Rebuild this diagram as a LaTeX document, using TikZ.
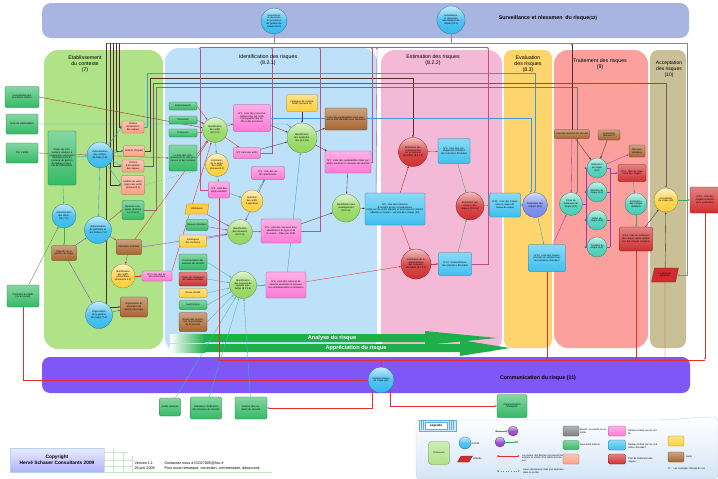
\documentclass[tikz,border=0pt]{standalone}
\usepackage{fontspec}
\setmainfont{Liberation Sans}
\usetikzlibrary{arrows.meta,shapes.geometric,calc}
\pgfdeclarelayer{bg}
\pgfdeclarelayer{lnl}
\pgfsetlayers{bg,lnl,main}
\definecolor{cCtx}{HTML}{B0E288}
\definecolor{cId}{HTML}{BEE1FA}
\definecolor{cEst}{HTML}{F5B9D8}
\definecolor{cEval}{HTML}{FDD46E}
\definecolor{cTrt}{HTML}{FCA09E}
\definecolor{cAcc}{HTML}{C9C098}
\definecolor{cSurv}{HTML}{A8B5E0}
\definecolor{cComm}{HTML}{7F57F7}
\definecolor{cDoc}{HTML}{34BA66}
\definecolor{cSal}{HTML}{FFA085}
\definecolor{cBrn}{HTML}{A8652E}
\definecolor{cPnk}{HTML}{FF7AD6}
\definecolor{cBlu}{HTML}{3EC0F0}
\definecolor{cRed}{HTML}{D02E2E}
\definecolor{cYel}{HTML}{FFCF3A}
\definecolor{cTeal}{HTML}{45CDB6}
\definecolor{cGrn}{HTML}{92D65C}
\definecolor{cAct}{HTML}{35B9EE}
\definecolor{cEv}{HTML}{7386EE}
\definecolor{cArr}{HTML}{1FAF4A}
\definecolor{cPur}{HTML}{8E3FC0}
\definecolor{cLR}{HTML}{E0302F}
\definecolor{cLB}{HTML}{3A9AD9}
\definecolor{cLT}{HTML}{3CC0A0}
\definecolor{cLD}{HTML}{5A2A2A}
\definecolor{cLG}{HTML}{3BAF4A}
\definecolor{cLP}{HTML}{C0508A}
\definecolor{cGry}{HTML}{8A8A8A}
\definecolor{cLeg}{HTML}{D4E5F6}
\tikzset{
 tx/.style={font=\fontsize{2.4}{2.7}\selectfont, align=center, inner sep=0.4pt, outer sep=0pt},
 nb/.style={tx, draw=#1!60!black, line width=0.25pt, rounded corners=1.2pt, top color=#1!60!white, bottom color=#1},
 sz/.style 2 args={minimum width=#1pt, minimum height=#2pt, text width={(#1-2.5)*1pt}},
 nc/.style={tx, circle, draw=#1!55!black, line width=0.25pt, top color=#1!30!white, bottom color=#1, middle color=#1!85!white},
 cz/.style={minimum size=#1pt, text width={(#1*0.7)*1pt}},
 npg/.style={tx, trapezium, trapezium left angle=65, trapezium right angle=115, trapezium stretches=true, draw=#1!60!black, line width=0.25pt, fill=#1},
 la/.style={draw=#1, line width=0.35pt, -{Latex[length=2.2pt,width=1.7pt]}},
 lp/.style={draw=#1, line width=0.35pt},
 ttl/.style={font=\fontsize{5.3}{6}\selectfont, align=center},
 lgt/.style={font=\fontsize{2.4}{2.8}\selectfont, align=left, anchor=west, inner sep=0pt},
}
\begin{document}
\begin{tikzpicture}[x=1pt,y=-1pt]
\useasboundingbox (0,0) rectangle (718,479);
\begin{pgfonlayer}{bg}
\fill[white] (0,0) rectangle (718,479);
\fill[cSurv, rounded corners=9pt] (42,3) rectangle (689,38);
\fill[cCtx, rounded corners=14pt] (44,50) rectangle (163,349);
\fill[cId, rounded corners=14pt] (165,48) rectangle (377,352);
\fill[cEst, rounded corners=14pt] (381,50) rectangle (502,352);
\fill[cEval, rounded corners=8pt] (504,50) rectangle (552,348);
\fill[cTrt, rounded corners=14pt] (554,50) rectangle (648,348);
\fill[cAcc, rounded corners=8pt] (650,50) rectangle (686,348);
\fill[cComm, rounded corners=8pt] (42,357) rectangle (690,393);
% banners
\fill[cArr] (172,344) -- (460,344) -- (460,340) -- (510,348) -- (460,356) -- (460,352) -- (172,352) -- cycle;
\fill[cArr] (172,334) -- (425,334) -- (425,331) -- (497,338) -- (425,345) -- (425,342) -- (172,342) -- cycle;
\shade[left color=white, right color=cArr] (170,334) rectangle (205,342);
\shade[left color=white, right color=cArr] (170,344) rectangle (205,352);
\end{pgfonlayer}

% titles
\node[ttl] (tctx) at (85,64) {Etablissement\\du contexte\\(7)};
\node[ttl] (tid) at (268,60) {Identification des risques\\(8.2.1)};
\node[ttl] (test) at (433,60) {Estimation des risques\\(8.2.2)};
\node[ttl] (teval) at (528,64) {Evaluation\\des risques\\(8.3)};
\node[ttl] (ttrt) at (600,64) {Traitement des risques\\(9)};
\node[ttl, font=\fontsize{5}{5.8}\selectfont] (tacc) at (669,69) {Acceptation\\des risques\\(10)};
\node[font=\bfseries\fontsize{5.3}{6}\selectfont] (tsurv) at (548,18) {Surveillance et réexamen\ \ du risque{\fontsize{4.4}{5}\selectfont(12)}};
\node[font=\bfseries\fontsize{5.3}{6}\selectfont] (tcomm) at (538,378) {Communication du risque (11)};
\node[font=\bfseries\fontsize{5.6}{6}\selectfont, text=white] (tana) at (332,338) {Analyse du risque};
\node[font=\bfseries\fontsize{5.6}{6}\selectfont, text=white] (tapp) at (356,348) {Appréciation du risque};

% surveillance circles
\node[nc=cAct, cz=26] (surv122) at (274,21) {Surveillance et réexamen du processus de gestion du risque (12.2)};
\node[nc=cAct, cz=28] (surv121) at (451,20) {Surveillance et réexamen des facteurs de risque (12.1)};
\coordinate (f106) at (106,43);
\coordinate (f110) at (110,43);
\coordinate (f113) at (113,43);
\coordinate (f116) at (116,43);
\coordinate (f119) at (119,43);
\coordinate (f687) at (687,43);
\coordinate (cb) at (0,360);
\coordinate (bus) at (610,0);

% external
\node[nb=cDoc, sz={34}{21}] (cart) at (22,97) {Cartographie des processus métiers};
\node[nb=cDoc, sz={32}{20}] (tests) at (22,124) {Tests de vulnérabilités};
\node[nb=cDoc, sz={32}{20}] (psi) at (22,153) {PSI, CMDB};
\node[nb=cDoc, sz={32}{22}] (perim) at (23,296) {Périmètre du SMSI (ou du projet)};

% context
\node[nb=cDoc, sz={28}{54}] (infos) at (62,158) {Toutes les informations relatives à l'organisme concernant l'établissement du contexte de gestion du risque en sécurité de l'information};
\node[nc=cAct, cz=26] (dcrit) at (100,155) {Détermination des critères de base (7.2)};
\node[nc=cAct, cz=24] (dobj) at (64,216) {Détermination des objectifs (7.1)};
\node[nb=cBrn, sz={25}{15}] (objg) at (64,253) {Objectifs de la gestion du risque};
\node[nc=cAct, cz=27] (dper) at (98,230) {Détermination du périmètre et des limites (7.3)};
\node[nc=cAct, cz=27] (dorg) at (99,315) {Organisation de la gestion du risque (7.4)};
\node[nb=cBrn, sz={27}{20}] (orgp) at (134,307) {Organisation du processus de gestion du risque};
\node[nb=cSal, sz={22}{12}] (crit1) at (133,127) {Critères d'évaluation des risques};
\node[nb=cSal, sz={21}{11}] (crit2) at (134,151) {Critères d'impact};
\node[nb=cSal, sz={22}{12}] (crit3) at (133,166) {Critères d'acceptation des risques};
\node[nb=cSal, sz={23}{19}] (valm) at (133,185) {Modèle de valorisation des actifs (Annexe B.1)};
\node[nb=cDoc, sz={22}{19}] (mesex) at (133,210) {Mesures existantes (Annexe A.2 et A.4)};
\node[nb=cBrn, sz={25}{15}] (perlim) at (129,247) {Périmètre et limites};
\node[nc=cYel, cz=24] (idprim) at (123,276) {Identification des actifs primordiaux (Annexe B.1.1)};
\node[nb=cPnk, sz={30}{10}] (l2prim) at (157,276) {N°2 Liste des actifs primordiaux};

% identification
\node[nb=cDoc, sz={28}{8}] (empl) at (183,106) {Emplacements};
\node[nb=cDoc, sz={28}{8}] (pers) at (183,120) {Personnel};
\node[nb=cDoc, sz={28}{8}] (proc) at (183,133) {Processus};
\node[nb=cDoc, sz={28}{26}] (lcomp) at (183,158) {La liste des composants du SI, des processus et des services};
\node[nc=cGrn, cz=25] (idact) at (215,130) {Identification des actifs (8.2.1.2)};
\node[nb=cPnk, sz={37}{27}] (l1) at (252,118) {N°1. Liste des processus métiers triés par actifs\\Cartographie des actifs et des processus};
\node[nb=cPnk, sz={27}{11}] (l2act) at (247,153) {N°2 Liste des actifs};
\node[nb=cYel, sz={31}{17}] (catvul) at (302,103) {Catalogue de vulnérabilités (Annexe D)};
\node[nc=cGrn, cz=30] (idvul) at (302,138) {Identification des vulnérabilités (8.2.1.5)};
\node[nb=cBrn, sz={42}{22}] (lvulbr) at (346,119) {Liste des vulnérabilités sans menace ni actif identifiés pour résolution};
\node[nb=cPnk, sz={46}{22}] (l7) at (348,162) {N°7. Liste des vulnérabilités triées par actifs, menaces et mesures de sécurité};
\node[nc=cYel, cz=23] (estval) at (217,165) {Estimation de la valeur des actifs (Annexe B.2)};
\node[nb=cPnk, sz={21}{16}] (l3) at (219,190) {N°3. Liste des actifs valorisés};
\node[nb=cPnk, sz={33}{13}] (l4) at (268,173) {N°4. Liste des actifs sélectionnés};
\node[nc=cYel, cz=22] (sel) at (252,201) {Sélection des actifs à apprécier};
\node[npg=cYel, minimum width=24pt, minimum height=10pt] (util) at (197,209) {Utilisateurs};
\node[nb=cDoc, sz={22}{11}] (revinc) at (197,225) {Revues d'incident};
\node[nb=cYel, sz={27}{12}] (catmen) at (193,241) {Catalogues des menaces};
\node[nc=cGrn, cz=25] (idmen) at (240,232) {Identification des menaces (8.2.1.3)};
\node[nb=cPnk, sz={40}{24}] (l5) at (281,231) {N°5. Liste des menaces avec identification du type et de la source - triées par actifs};
\node[nc=cGrn, cz=28] (idcons) at (346,208) {Identification des conséquences (8.2.1.6)};
\node[nb=cDoc, sz={28}{16}] (docmes) at (193,262) {Documentation des mesures de sécurité};
\node[nb=cRed, sz={28}{14}] (plans) at (193,279) {Plans de traitement du risque existants};
\node[nb=cYel, sz={28}{9}] (revaud) at (193,293) {Revue d'audit};
\node[nb=cDoc, sz={28}{9}] (audint) at (193,305) {Audit interne};
\node[nb=cBrn, sz={28}{19}] (revpers) at (193,322) {Revue des personnes responsables de la sécurité};
\node[nc=cGrn, cz=27] (idmes) at (243,285) {Identification des mesures de sécurité existantes (8.2.1.4)};
\node[nb=cPnk, sz={40}{26}] (l6) at (286,285) {N°6. Liste des mesures de sécurité existantes et prévues, leur implémentation et utilisation};

% estimation
\node[nc=cRed, cz=29] (estcons) at (413,152) {Estimation des conséquences sur le scénario d'incident (8.2.2.2)};
\node[nb=cBlu, sz={32}{25}] (l9) at (454,151) {N°9. Liste des conséquences estimées des scénarios d'incident};
\node[nb=cBlu, sz={60}{32}] (l8) at (395,209) {N°8. liste des scénarios d'incident et leur conséquences\\triées sur les actifs affectés et les processus métiers affectés et l'impact - via liste des critères (10)};
\node[nc=cRed, cz=28] (estniv) at (470,206) {Estimation des niveaux des risques (8.2.2.4)};
\node[nc=cRed, cz=30] (estvrai) at (416,264) {Estimation de la vraisemblance des scénarios d'incident (8.2.2.3)};
\node[nb=cBlu, sz={33}{23}] (l10) at (455,264) {N°10. Vraisemblance des scénarios d'incident};

% evaluation
\node[nb=cBlu, sz={31}{24}] (l11) at (505,205) {N°11. Liste des risques avec la valeur du niveau de risque};
\node[nc=cEv, cz=25] (evalc) at (535,205) {Évaluation des risques (8.3)};
\node[nb=cBlu, sz={37}{27}] (l12) at (547,258) {N°12. Liste des risques priorisés en relation avec les scénarios d'incident};

% treatment
\node[nb=cBrn, sz={35}{9}] (lmes) at (572,134) {Liste des mesures de sécurité};
\node[nb=cBrn, sz={22}{10}] (contr) at (609,135) {Contraintes (Annexe F)};
\node[nb=cBrn, sz={16}{12}] (mesdec) at (637,151) {Mesures décidées};
\node[nc=cTeal, cz=23] (choix) at (571,204) {Choix du traitement du risque (9.1)};
\node[nc=cTeal, cz=20] (reduc) at (597,168) {Réduction du risque (9.2)};
\node[nc=cTeal, cz=20] (maint) at (597,192) {Maintien du risque (9.3)};
\node[nc=cTeal, cz=20] (refus) at (597,220) {Refus du risque (9.4)};
\node[nc=cTeal, cz=20] (transf) at (597,247) {Transfert du risque (9.5)};
\node[nb=cRed, sz={28}{17}] (l13) at (632,173) {N°13. Plan de traitement des risques};
\node[nc=cTeal, cz=22] (estres) at (636,204) {Estimation des risques résiduels};
\node[nb=cRed, sz={33}{24}] (l14) at (636,239) {N°14. Plan de traitement des risques après estimation des risques résiduels};

% acceptance
\node[nc=cYel, cz=24] (acc) at (666,200) {Acceptation du risque (10)};
\node[npg=cRed, minimum width=27pt, minimum height=14pt, text width=18pt] (dirg) at (665,275) {La direction générale};
\node[nb=cRed, sz={30}{26}] (l15) at (705,200) {N°15. Liste des risques acceptés avec justification};

% communication
\node[nc=cAct, cz=26] (commc) at (381,380) {Communication du risque (11)};
\node[nb=cDoc, sz={21}{18}] (audext) at (170,407) {Audits externes};
\node[nb=cDoc, sz={31}{22}] (indic) at (206,408) {Indicateurs d'efficacité des mesures de sécurité};
\node[nb=cDoc, sz={32}{22}] (gestinc) at (251,408) {Gestion des incidents de sécurité};
\node[nb=cDoc, sz={30}{23}] (comment) at (512,406) {Communication Entreprise};

% ===== connectors =====
\begin{pgfonlayer}{lnl}
\draw[lp=cGry, line width=0.7pt] (f106) -- (f687);
\draw[la=cGry] (f687) |- (dirg.east);
\draw[lp=cGry] (surv122.south) -- (surv122.south |- f106);
\draw[lp=cGry] (surv121.south) -- (surv121.south |- f106);
\draw[la=cLD] (f106) |- (orgp.west);
\draw[la=cLD] (f110) |- (valm.west);
\draw[la=cLD] (f113) |- (crit3.west);
\draw[la=cLD] (f116) |- (crit2.west);
\draw[la=cLD] (f119) |- (crit1.west);
% criteria lanes
\draw[la=cLB] (crit1.east) -| (147,73) -| (evalc.north);
\draw[la=cLD] (crit2.east) -| (150,78) -| (estcons.north);
\draw[la=cGry!70!black] (crit3.east) -| (153,83) -| (acc.north);
\draw[la=cLD!70] (mesex.east) -| (156,87) -| (choix.60);
\draw[la=cLB] (l1.east) -| (evalc.110);
% pink lane to surveillance
\draw[lp=cLP] (200,47) -- (488,47);
\draw[la=cLP] (l3.west) -| (200,47);
\draw[la=cLP] (l2act.east) -| (272,47);
\draw[la=cLP] (l5.east) -| (320,47);
\draw[la=cLP] (l7.east) -| (372,47);
\draw[la=cLP] ($(l8.north west)+(11,0)$) -- (377,47);
\draw[la=cLP] (l10.east) -| (488,47);
\draw[la=cLD] (lmes.north) -- (lmes.north |- f106);
% context
\draw[la=cLG] (infos) -- (dobj);
\draw[la=cLB] (infos) -- (dcrit);
\draw[la=cLG] (dobj) -- (objg);
\draw[la=cPur] (objg) -- (dper);
\draw[la=cPur] (objg) -- (dorg);
\draw[la=cLB] (dcrit) -- (crit1.west);
\draw[la=cLB] (dcrit) -- (crit2.west);
\draw[la=cLB] (dcrit) -- (crit3.west);
\draw[la=cLB] (dcrit) -- (valm.west);
\draw[la=cLB] (dcrit) -- (dper);
\draw[la=cLR] (dper) -- (perlim);
\draw[la=cLR] (dper) -- (mesex.west);
\draw[la=cPur] (dorg) -- (orgp);
\draw[la=cLR] (perlim) -- (idprim);
\draw[la=cLR] (idprim) -- (l2prim);
\draw[la=cLR] (l2prim.north east) -- (idact);
\draw[la=cLR] (perlim) -- (idact);
\draw[la=cPur] (perlim.east) -- (idmen);
\draw[la=cAcc!60!black] (perim) -- (dobj);
\draw[la=cLR] (perim.south) |- (commc.west);
\draw[la=cLR!70!black] (cart.east) -- (idact);
\draw[la=cLB] (tests.east) -- (tests.east -| idvul.west) -- (idvul);
\draw[la=cLR] (psi.east) -- (lcomp.west);
\draw[cLG, dotted, line width=0.5pt] (valm.east) -- (estval);
% identification
\draw[la=cLR] (empl.east) -- (idact);
\draw[la=cLR] (pers.east) -- (idact);
\draw[la=cLR] (proc.east) -- (idact);
\draw[la=cLR] (lcomp.east) -- (idact);
\draw[la=cLR] (idact) -- (l1);
\draw[la=cLR] (idact) -- (l2act);
\draw[la=cLD] (l1) -- (idvul);
\draw[la=cLD] (l2act) -- (idvul);
\draw[la=cLD] (catvul) -- (idvul);
\draw[la=cLD] (idvul) -- (lvulbr);
\draw[la=cLD] (idvul) -- (l7);
\draw[la=cLD] (l7) -- (idcons);
\draw[la=cLB] (l6) -- (idvul);
\draw[la=cLG] (idact) -- (estval);
\draw[la=cLG] (estval) -- (l3);
\draw[la=cLG] (l3) -- (sel);
\draw[la=cLG] (sel) -- (l4);
\draw[la=cPur] (util) -- (idmen);
\draw[la=cPur] (revinc) -- (idmen);
\draw[la=cPur] (catmen) -- (idmen);
\draw[la=cPur] (l4) -- (idmen);
\draw[la=cPur] (idmen) -- (l5);
\draw[la=cLD] (l5) -- (idcons);
\draw[la=cLT] (docmes.east) -- (idmes);
\draw[la=cLT] (plans.east) -- (idmes);
\draw[la=cLT] (revaud.east) -- (idmes);
\draw[la=cLT] (audint.east) -- (idmes);
\draw[la=cLT] (revpers.east) -- (idmes);
\draw[la=cLT] (audext) -- (idmes);
\draw[la=cLT] (indic) -- (idmes);
\draw[la=cLT] (gestinc) -- (idmes);
\draw[la=cLT] (idmes) -- (l6);
\draw[la=cLR] (l6) -- (estvrai);
\draw[la=cLD] (idcons) -- (l8);
% estimation
\draw[la=cLR!70!black] (l8) -- (estcons);
\draw[la=cLR] (l8) -- (estvrai);
\draw[la=cLR] (estcons) -- (l9);
\draw[la=cLR] (estvrai) -- (l10);
\draw[la=cLG] (l9) -- (estniv);
\draw[la=cLG] (l10) -- (estniv);
\draw[la=cLG] (estniv) -- (l11);
\draw[la=cLB] (l11) -- (evalc);
\draw[la=cLB] (evalc) -- (l12);
\draw[la=cPur] (l12) -- (choix);
% treatment
\draw[la=cPur] (lmes) -- (choix);
\draw[la=cLD] (lmes) -- (reduc);
\draw[la=cLD] (contr) -- (reduc);
\draw[la=cPur] (choix.east) -- ++(4,0) |- (reduc.west);
\draw[la=cPur] (choix.east) -- ++(4,0) |- (maint.west);
\draw[la=cPur] (choix.east) -- ++(4,0) |- (refus.west);
\draw[la=cPur] (choix.east) -- ++(4,0) |- (transf.west);
\draw[lp=cPur] (reduc.east) -- (reduc.east -| bus);
\draw[lp=cPur] (maint.east) -- (maint.east -| bus);
\draw[lp=cPur] (refus.east) -- (refus.east -| bus);
\draw[lp=cPur] (transf.east) -- (transf.east -| bus);
\draw[lp=cPur] (bus |- reduc.east) -- (bus |- transf.east);
\draw[la=cPur] (bus |- l13.west) -- (l13.west);
\draw[la=cPur] (reduc) -- (mesdec);
\draw[la=cLG] (l13) -- (estres);
\draw[la=cLG] (estres) -- (l14);
\draw[la=cLD] (l14) -- (acc);
\draw[la=cLD] (dirg) -- (acc);
\draw[la=cLG] (acc) -- (l15);
% to communication
\draw[lp=cLR] (l3 |- cb) -- (l15 |- cb);
\draw[la=cLR] (l3.south) -- (l3 |- cb);
\draw[la=cLR] (l12.south) -- (l12 |- cb);
\draw[la=cLR] (l14.south) -- (l14 |- cb);
\draw[la=cLR] (dirg.south) -- (dirg |- cb);
\draw[la=cLR] (l15.south) -- (l15 |- cb);
\draw[la=cLR] (commc |- cb) -- (commc.north);
\draw[la=cLR] (commc.south west) |- (gestinc.east);
\draw[la=cLR] (commc.south east) |- (comment.west);
\end{pgfonlayer}

% ===== copyright =====
\node[draw=cLB!40, line width=0.3pt, top color=blue!8!white, bottom color=blue!30!white, minimum width=94pt, minimum height=24pt, font=\bfseries\fontsize{4.8}{5.8}\selectfont, align=center] (copy) at (57,460) {Copyright\\Hervé Schauer Consultants 2009};
\draw[cLG!30, line width=0.4pt] (104,448) -- (104,472) (113,448) -- (113,472) (123,452) -- (123,472) (132,456) -- (132,472)
  (104,452) -- (128,452) (104,460) -- (132,460) (104,466) -- (132,466) (104,472) -- (272,472);
\node[font=\fontsize{3.7}{4.4}\selectfont, align=left, anchor=west] (ver) at (131,466) {Version 1.1\\26 juin 2009};
\node[font=\fontsize{3.7}{4.4}\selectfont, align=left, anchor=west] (cont) at (161,466) {Contactez nous à ISO27005@hsc.fr\\Pour toute remarque, correction, commentaire, désaccord.};

% ===== legend =====
\begin{pgfonlayer}{bg}
\path[draw=gray!35, line width=0.4pt, top color=white, bottom color=cLeg, rounded corners=4pt] (416,479) -- (416,420) -- (650,420) .. controls (680,420) and (690,417) .. (718,417) -- (718,479) -- cycle;
\end{pgfonlayer}
\node[draw=cLB!80, fill=cLB!25, minimum width=37pt, minimum height=11pt] (legtab) at (437.5,425.5) {};
\node[draw=cLB!80, fill=white, minimum width=22pt, minimum height=7pt, font=\bfseries\fontsize{3}{3.5}\selectfont, inner sep=0pt] (legt) at (436,425.5) {Légende};
\draw[cLB!80, line width=0.3pt] (421,421) -- (421,430) (423,421) -- (423,430) (449,421) -- (449,430) (451,421) -- (451,430) (453,421) -- (453,430);
\node[nb=cCtx, sz={21}{23}, rounded corners=3pt] (lgproc) at (439,453) {Processus};
\node[nc=cAct, minimum size=12pt] (lgact) at (465,443) {};
\node[lgt] (lgactt) at (471.5,444) {Activité};
\node[npg=cRed, minimum width=15pt, minimum height=6pt] (lgind) at (465,459) {};
\node[lgt] (lgindt) at (473,459) {Individu};
\node[nc=cPur, minimum size=10pt] (lgp1) at (513,431) {};
\node[nc=cPur, minimum size=10pt] (lgp2) at (500,442) {};
\coordinate (lgs1) at (496,431);
\coordinate (lgs2) at (517,442);
\draw[la=cLG] (lgs1) -- (lgp1);
\draw[la=cLG] (lgp2) -- (lgs2);
\fill[cLG] (lgs1) circle (1pt) (lgs2) circle (1pt);
\coordinate (lgr1) at (498,456);
\coordinate (lgr2) at (520,456);
\draw[la=cLR] (lgr1) -- (lgr2);
\fill[cLR] (lgr1) circle (1pt);
\node[lgt, text width=42pt] (lgrt) at (522,458) {La couleur des flèches correspond aux entrées et sorties d'un même processus};
\coordinate (lgd1) at (498,471);
\coordinate (lgd2) at (520,471);
\draw[cLG, dotted, line width=0.6pt, -{Latex[length=2pt,width=1.6pt]}] (lgd1) -- (lgd2);
\fill[cLG] (lgd1) circle (1pt);
\node[lgt, text width=44pt] (lgdt) at (523,471.5) {Liens nécessaires mais pas explicites dans la norme};
\node[nb=gray, sz={16}{10}] (lggr) at (571,431) {};
\node[lgt, text width=27pt] (lggrt) at (580,431) {Bouclé, en entrée ou en sortie};
\node[nb=cDoc, sz={16}{9}] (lgdoc) at (571,445) {};
\node[lgt, text width=27pt] (lgdoct) at (580,445) {Document externe};
\node[nb=cSal, sz={16}{10}] (lgsal) at (571,459) {};
\node[nb=cPnk, sz={17}{10}] (lgpnk) at (617,431) {};
\node[lgt, text width=30pt] (lgpnkt) at (628,432) {Tableau indexé par les actifs};
\node[nb=cBlu, sz={17}{10}] (lgblu) at (617,445) {};
\node[lgt, text width=30pt] (lgblut) at (628,446) {Tableau indexé par les scénarios d'incident};
\node[nb=cRed, sz={17}{10}] (lgred) at (617,459) {};
\node[lgt, text width=30pt] (lgredt) at (628,460) {Plan de traitement des risques};
\node[nb=cYel, sz={16}{10}] (lgyel) at (676,441) {};
\node[nb=cBrn, sz={16}{10}] (lgbrn) at (676,457) {};
\node[lgt] (lgbrnt) at (686,457) {Autre};
\node[lgt, text width=44pt] (lgno) at (668,469) {N° : Les exemples d'étude de cas};
\end{tikzpicture}
\end{document}
